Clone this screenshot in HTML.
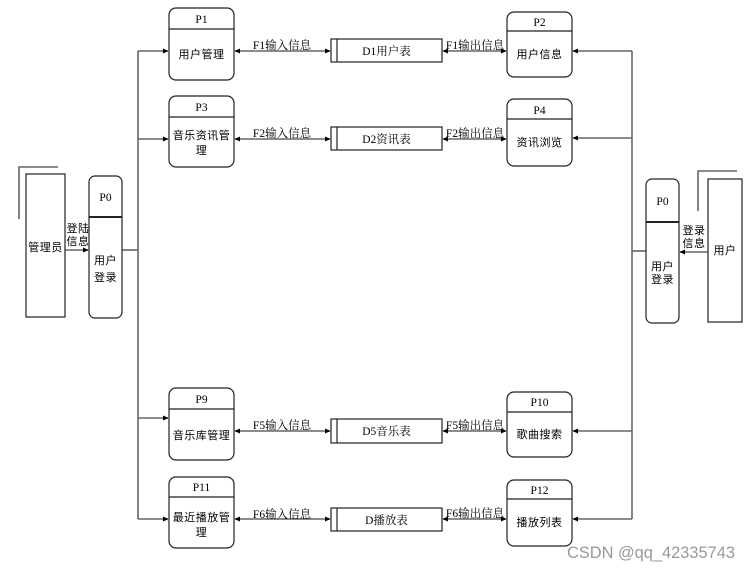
<!DOCTYPE html>
<html><head><meta charset="utf-8"><style>
html,body{margin:0;padding:0;background:#fff;}
svg{display:block;}
.cj{font-family:"Liberation Serif","Noto Sans CJK SC",serif;font-size:11px;fill:#000;}
.sf{font-family:"Liberation Serif","Noto Serif CJK SC",serif;font-size:11.5px;fill:#000;}
</style></head><body>
<svg width="751" height="570" viewBox="0 0 751 570" xmlns="http://www.w3.org/2000/svg">
<defs>
<marker id="a" markerWidth="6" markerHeight="6" refX="5" refY="3" orient="auto" markerUnits="userSpaceOnUse">
<path d="M0,0.5 L5.5,3 L0,5.5 z" fill="#000"/></marker>
<marker id="b" markerWidth="6" markerHeight="6" refX="1" refY="3" orient="auto" markerUnits="userSpaceOnUse">
<path d="M6,0.5 L0.5,3 L6,5.5 z" fill="#000"/></marker>
</defs>
<g fill="none" stroke="#666" stroke-width="1.6">
<line x1="138" y1="51" x2="138" y2="519"/>
<line x1="122" y1="250" x2="138" y2="250"/>
<line x1="138" y1="51" x2="168" y2="51" marker-end="url(#a)"/>
<line x1="138" y1="139" x2="168" y2="139" marker-end="url(#a)"/>
<line x1="138" y1="418" x2="168" y2="418" marker-end="url(#a)"/>
<line x1="138" y1="519" x2="168" y2="519" marker-end="url(#a)"/>
<line x1="632" y1="51" x2="632" y2="519"/>
<line x1="632" y1="251" x2="646" y2="251"/>
<line x1="632" y1="51" x2="573" y2="51" marker-end="url(#a)"/>
<line x1="632" y1="138" x2="573" y2="138" marker-end="url(#a)"/>
<line x1="632" y1="431" x2="573" y2="431" marker-end="url(#a)"/>
<line x1="632" y1="519" x2="573" y2="519" marker-end="url(#a)"/>
<line x1="235" y1="51" x2="330" y2="51" marker-start="url(#b)" marker-end="url(#a)"/>
<line x1="443" y1="51" x2="506" y2="51" marker-start="url(#b)" marker-end="url(#a)"/>
<line x1="235" y1="139" x2="330" y2="139" marker-start="url(#b)" marker-end="url(#a)"/>
<line x1="443" y1="139" x2="506" y2="139" marker-start="url(#b)" marker-end="url(#a)"/>
<line x1="235" y1="431" x2="330" y2="431" marker-start="url(#b)" marker-end="url(#a)"/>
<line x1="443" y1="431" x2="506" y2="431" marker-start="url(#b)" marker-end="url(#a)"/>
<line x1="235" y1="519" x2="330" y2="519" marker-start="url(#b)" marker-end="url(#a)"/>
<line x1="443" y1="519" x2="506" y2="519" marker-start="url(#b)" marker-end="url(#a)"/>
<line x1="65" y1="250" x2="88" y2="250" marker-end="url(#a)"/>
<line x1="708" y1="252" x2="680" y2="252" marker-end="url(#a)"/>
<polyline points="19,219 19,167 58,167"/>
<polyline points="698,211 698,171 737,171"/>
</g>
<g fill="#fff" stroke="#222" stroke-width="1.2">
<rect x="26" y="174" width="39" height="143"/>
<rect x="708" y="179" width="34" height="143"/>
<rect x="89" y="176" width="33" height="142" rx="6"/>
<rect x="646" y="179" width="33" height="144" rx="6"/>
<rect x="169" y="8" width="65" height="72" rx="7"/>
<rect x="169" y="96" width="65" height="71" rx="7"/>
<rect x="169" y="388" width="65" height="72" rx="7"/>
<rect x="169" y="477" width="65" height="71" rx="7"/>
<rect x="507" y="12" width="65" height="65" rx="7"/>
<rect x="507" y="99" width="65" height="67" rx="7"/>
<rect x="507" y="392" width="65" height="65" rx="7"/>
<rect x="507" y="480" width="65" height="66" rx="7"/>
<rect x="331" y="39" width="111" height="23"/>
<rect x="331" y="127" width="111" height="23"/>
<rect x="331" y="419" width="111" height="24"/>
<rect x="331" y="508" width="111" height="23"/>
</g>
<g stroke="#222" stroke-width="1.2">
<line x1="337" y1="39" x2="337" y2="62"/>
<line x1="337" y1="127" x2="337" y2="150"/>
<line x1="337" y1="419" x2="337" y2="443"/>
<line x1="337" y1="508" x2="337" y2="531"/>
<line x1="169" y1="29" x2="234" y2="29"/>
<line x1="169" y1="117" x2="234" y2="117"/>
<line x1="169" y1="409" x2="234" y2="409"/>
<line x1="169" y1="497" x2="234" y2="497"/>
<line x1="507" y1="31" x2="572" y2="31"/>
<line x1="507" y1="119" x2="572" y2="119"/>
<line x1="507" y1="412" x2="572" y2="412"/>
<line x1="507" y1="499" x2="572" y2="499"/>
<line x1="89" y1="217" x2="122" y2="217" stroke-width="2"/>
<line x1="646" y1="222" x2="679" y2="222" stroke-width="2"/>
</g>
<g class="sf" text-anchor="middle">
<text x="201.5" y="23">P1</text>
<text x="201.5" y="111">P3</text>
<text x="201.5" y="403">P9</text>
<text x="201.5" y="491">P11</text>
<text x="539.5" y="26">P2</text>
<text x="539.5" y="114">P4</text>
<text x="539.5" y="406">P10</text>
<text x="539.5" y="494">P12</text>
<text x="105.5" y="201">P0</text>
<text x="662.5" y="205">P0</text>
<text x="386.5" y="55">D1用户表</text>
<text x="386.5" y="143">D2资讯表</text>
<text x="386.5" y="435">D5音乐表</text>
<text x="386.5" y="524">D播放表</text>
<text x="282" y="49">F1输入信息</text>
<text x="282" y="137">F2输入信息</text>
<text x="282" y="429">F5输入信息</text>
<text x="282" y="518">F6输入信息</text>
<text x="475" y="49">F1输出信息</text>
<text x="475" y="137">F2输出信息</text>
<text x="475" y="429">F5输出信息</text>
<text x="475" y="517">F6输出信息</text>
</g>
<g class="cj" text-anchor="middle" letter-spacing="0.5">
<text x="201.5" y="58">用户管理</text>
<text x="201.5" y="139">音乐资讯管</text>
<text x="201.5" y="154">理</text>
<text x="201.5" y="439">音乐库管理</text>
<text x="201.5" y="521">最近播放管</text>
<text x="201.5" y="536">理</text>
<text x="539.5" y="58">用户信息</text>
<text x="539.5" y="146">资讯浏览</text>
<text x="539.5" y="438">歌曲搜索</text>
<text x="539.5" y="526">播放列表</text>
<text x="45.5" y="251">管理员</text>
<text x="725" y="254">用户</text>
<text x="105.5" y="264">用户</text>
<text x="105.5" y="281">登录</text>
<text x="662.5" y="270">用户</text>
<text x="662.5" y="283">登录</text>
<text x="78" y="232">登陆</text>
<text x="78" y="245">信息</text>
<text x="694" y="234">登录</text>
<text x="694" y="247">信息</text>
</g>
<text x="567" y="558" font-family="Liberation Sans, sans-serif" font-size="16.5" fill="#999" textLength="168" lengthAdjust="spacingAndGlyphs">CSDN @qq_42335743</text>
</svg>
</body></html>
